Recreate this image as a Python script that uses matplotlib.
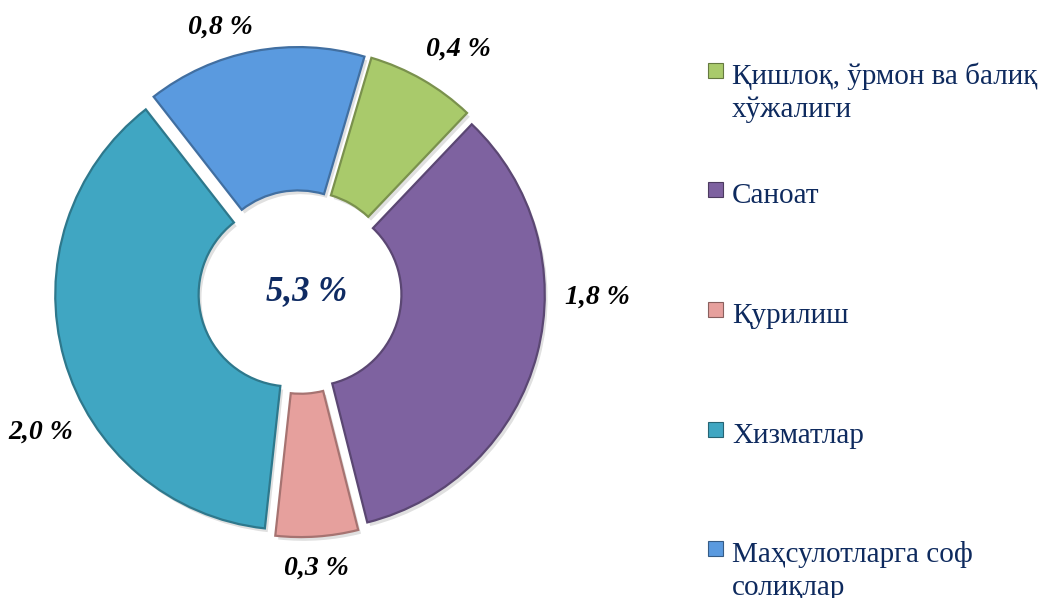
import matplotlib
matplotlib.use('Agg')
import matplotlib.pyplot as plt
import matplotlib.patches as ptc
import matplotlib.colors as mcolors

categories = ['Қишлоқ, ўрмон ва балиқ\nхўжалиги', 'Саноат', 'Қурилиш',
              'Хизматлар', 'Маҳсулотларга соф\nсолиқлар']
values = [0.4, 1.8, 0.3, 2.0, 0.8]
value_labels = ['0,4 %', '1,8 %', '0,3 %', '2,0 %', '0,8 %']
total_label = '5,3 %'
colors = ['#A9CA6B', '#7E62A0', '#E6A09D', '#40A6C2', '#5A9ADF']

W, H = 1045, 598
R = 235.0           # outer radius in pixels
CX, CY = 300, 292   # donut centre, pixels from top-left


def px(x, y):
    # pixel (from top-left) -> data coords of the full-figure axes
    return (x - CX) / R, (CY - y) / R


def darker(c, f=0.72):
    r, g, b = mcolors.to_rgb(c)
    return (r * f, g * f, b * f)


fig = plt.figure(figsize=(W / 100, H / 100), dpi=100)
ax = fig.add_axes([0, 0, 1, 1])
ax.axis('off')

explode = [0.043] * len(values)
start = 73.6

# soft shadow underneath
sh, _ = ax.pie(values, radius=1.0, startangle=start, counterclock=False,
               explode=explode, center=(0.012, -0.016),
               colors=['#000000'] * len(values),
               wedgeprops=dict(width=0.61, linewidth=0, alpha=0.12))

wedges, _ = ax.pie(values, radius=1.0, startangle=start, counterclock=False,
                   explode=explode, colors=colors,
                   wedgeprops=dict(width=0.61, linewidth=1.6))
for w, c in zip(wedges, colors):
    w.set_edgecolor(darker(c))
ax.set_xlim(-CX / R, (W - CX) / R)
ax.set_ylim(-(H - CY) / R, CY / R)
ax.set_aspect('auto')

# data labels (pixel positions)
label_pos = [(458, 49), (597, 297), (316, 568), (41, 432), (220, 27)]
for txt, (x, y) in zip(value_labels, label_pos):
    ax.text(*px(x, y), txt, ha='center', va='center', fontsize=20,
            fontweight='bold', fontstyle='italic', family='Liberation Serif',
            color='black')

ax.text(*px(307, 292), total_label, ha='center', va='center', fontsize=25,
        fontweight='bold', fontstyle='italic', family='Liberation Serif',
        color='#0F2B63')

# legend, drawn by hand so the marker sits on the first line
baselines = [84, 203, 323, 443, 562]
line_gap = 33
for lab, c, b in zip(categories, colors, baselines):
    x0, y0 = px(708, b - 6)
    ax.add_patch(ptc.Rectangle((x0, y0), 15 / R, 15 / R, facecolor=c,
                               edgecolor=darker(c, 0.6), linewidth=0.8))
    lines = lab.split('\n')
    for i, ln in enumerate(lines):
        ax.text(*px(732, b + i * line_gap), ln, ha='left', va='baseline',
                fontsize=21, family='Liberation Serif', color='#0E2A5E')

fig.savefig('out.png', dpi=100)
